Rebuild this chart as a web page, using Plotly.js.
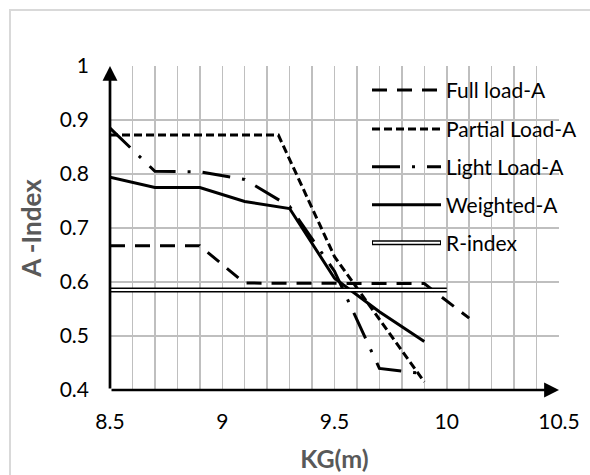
<!DOCTYPE html>
<html>
<head>
<meta charset="utf-8">
<script src="https://cdn.plot.ly/plotly-3.0.1.min.js"></script>
<style>html,body{margin:0;padding:0;background:#fff;}#chart{width:590px;height:475px;}</style>
</head>
<body>
<div id="chart"></div>
<script>
// ---- data ----
const seriesNames = ["Full load-A", "Partial Load-A", "Light Load-A", "Weighted-A", "R-index"];

const fullLoadX = [8.5, 8.7, 8.9, 9.1, 9.3, 9.5, 9.7, 9.9, 10.1];
const fullLoadY = [0.667, 0.667, 0.667, 0.598, 0.598, 0.598, 0.598, 0.597, 0.533];

const partialLoadX = [8.5, 8.7, 8.9, 9.1, 9.25, 9.5, 9.7, 9.9];
const partialLoadY = [0.872, 0.872, 0.872, 0.872, 0.872, 0.647, 0.53, 0.415];

const lightLoadX = [8.5, 8.7, 8.9, 9.1, 9.3, 9.5, 9.7, 9.9];
const lightLoadY = [0.885, 0.805, 0.804, 0.79, 0.74, 0.62, 0.44, 0.43];

const weightedX = [8.5, 8.7, 8.9, 9.1, 9.3, 9.5, 9.7, 9.9];
const weightedY = [0.794, 0.775, 0.775, 0.749, 0.736, 0.607, 0.545, 0.49];

const rIndexX = [8.5, 10.0];
const rIndexY = [0.585, 0.585];

const xTickVals = [8.5, 9, 9.5, 10, 10.5];
const xTickText = ["8.5", "9", "9.5", "10", "10.5"];
const yTickVals = [0.4, 0.5, 0.6, 0.7, 0.8, 0.9, 1];
const yTickText = ["0.4", "0.5", "0.6", "0.7", "0.8", "0.9", "1"];

// ---- layout geometry ----
const W = 590, H = 475;
const M = {l: 110, r: 31, t: 66, b: 84.5};
const pw = W - M.l - M.r, ph = H - M.t - M.b;
const px = v => (v - M.l) / pw;          // pixel x -> paper x
const py = v => (H - M.b - v) / ph;      // pixel y -> paper y

const FONT = "Lato, 'Liberation Sans', sans-serif";
const black = "#000000";

const dashes = {
  full: "15px,10px",
  partial: "8px,4px",
  light: "28px,12px,3px,12px",
  weighted: "solid"
};

const traces = [
  {x: fullLoadX, y: fullLoadY, name: seriesNames[0], mode: "lines", line: {color: black, width: 3, dash: dashes.full}},
  {x: partialLoadX, y: partialLoadY, name: seriesNames[1], mode: "lines", line: {color: black, width: 3, dash: dashes.partial}},
  {x: lightLoadX, y: lightLoadY, name: seriesNames[2], mode: "lines", line: {color: black, width: 3, dash: dashes.light}},
  {x: weightedX, y: weightedY, name: seriesNames[3], mode: "lines", line: {color: black, width: 3}},
  {x: rIndexX, y: rIndexY, name: seriesNames[4], mode: "lines", line: {color: black, width: 5}},
  {x: rIndexX, y: rIndexY, name: seriesNames[4], mode: "lines", line: {color: "#ffffff", width: 2}, showlegend: false}
];

// custom legend (long line samples as in the reference)
const legendRows = [90, 129, 167, 205, 243];
const legendStyles = [dashes.full, dashes.partial, dashes.light, "solid", "double"];
const shapes = [
  // chart-area border
  {type: "rect", xref: "paper", yref: "paper", x0: px(10), x1: px(620), y0: py(10), y1: py(500),
   line: {color: "#d9d9d9", width: 2}, fillcolor: "rgba(0,0,0,0)", layer: "below"},
  // legend background covering gridlines
  {type: "rect", xref: "paper", yref: "paper", x0: px(350), x1: px(600), y0: py(68), y1: py(262),
   line: {width: 0}, fillcolor: "#ffffff", layer: "between"}
];
const annotations = [];
legendRows.forEach((yy, i) => {
  const st = legendStyles[i];
  if (st === "double") {
    shapes.push({type: "line", xref: "paper", yref: "paper", x0: px(372), x1: px(441), y0: py(yy), y1: py(yy),
      line: {color: black, width: 5}, layer: "above"});
    shapes.push({type: "line", xref: "paper", yref: "paper", x0: px(373), x1: px(440), y0: py(yy), y1: py(yy),
      line: {color: "#ffffff", width: 2}, layer: "above"});
  } else {
    shapes.push({type: "line", xref: "paper", yref: "paper", x0: px(372), x1: px(441), y0: py(yy), y1: py(yy),
      line: {color: black, width: 3, dash: st}, layer: "above"});
  }
  annotations.push({xref: "paper", yref: "paper", x: px(444), y: py(yy), xanchor: "left", yanchor: "middle",
    text: seriesNames[i], showarrow: false, font: {family: FONT, size: 21, color: black}});
});

// axis lines with arrowheads
annotations.push({x: 8.5, y: 1.0, ax: 8.5, ay: 0.4, xref: "x", yref: "y", axref: "x", ayref: "y",
  text: "", showarrow: true, arrowhead: 2, arrowsize: 1.1, arrowwidth: 2.7, arrowcolor: black, standoff: 0, startstandoff: 0});
annotations.push({x: 10.5, y: 0.4, ax: 8.5, ay: 0.4, xref: "x", yref: "y", axref: "x", ayref: "y",
  text: "", showarrow: true, arrowhead: 2, arrowsize: 1.1, arrowwidth: 2.7, arrowcolor: black, standoff: 0, startstandoff: 0});

const layout = {
  width: W, height: H,
  margin: M,
  paper_bgcolor: "#ffffff", plot_bgcolor: "#ffffff",
  showlegend: false,
  font: {family: FONT, size: 20, color: black},
  xaxis: {
    range: [8.5, 10.5], tickvals: xTickVals, ticktext: xTickText,
    showgrid: true, gridcolor: "#bfbfbf", gridwidth: 1.5,
    minor: {dtick: 0.1, showgrid: true, gridcolor: "#bfbfbf", gridwidth: 1.5, ticks: ""},
    zeroline: false, showline: false, ticks: "", ticklabelstandoff: 17,
    tickfont: {family: FONT, size: 21, color: black},
    title: {text: "KG(m)", font: {family: FONT, size: 25, color: "#595959", weight: "bold"}, standoff: 18}
  },
  yaxis: {
    range: [0.4, 1.0], tickvals: yTickVals, ticktext: yTickText,
    showgrid: true, gridcolor: "#bfbfbf", gridwidth: 1.5,
    zeroline: false, showline: false, ticks: "", ticklabelstandoff: 20,
    tickfont: {family: FONT, size: 21, color: black},
    title: {text: "A -Index", font: {family: FONT, size: 26, color: "#595959", weight: "bold"}, standoff: 10}
  },
  shapes: shapes,
  annotations: annotations
};

Plotly.newPlot("chart", traces, layout, {displayModeBar: false, staticPlot: true});
</script>
</body>
</html>
